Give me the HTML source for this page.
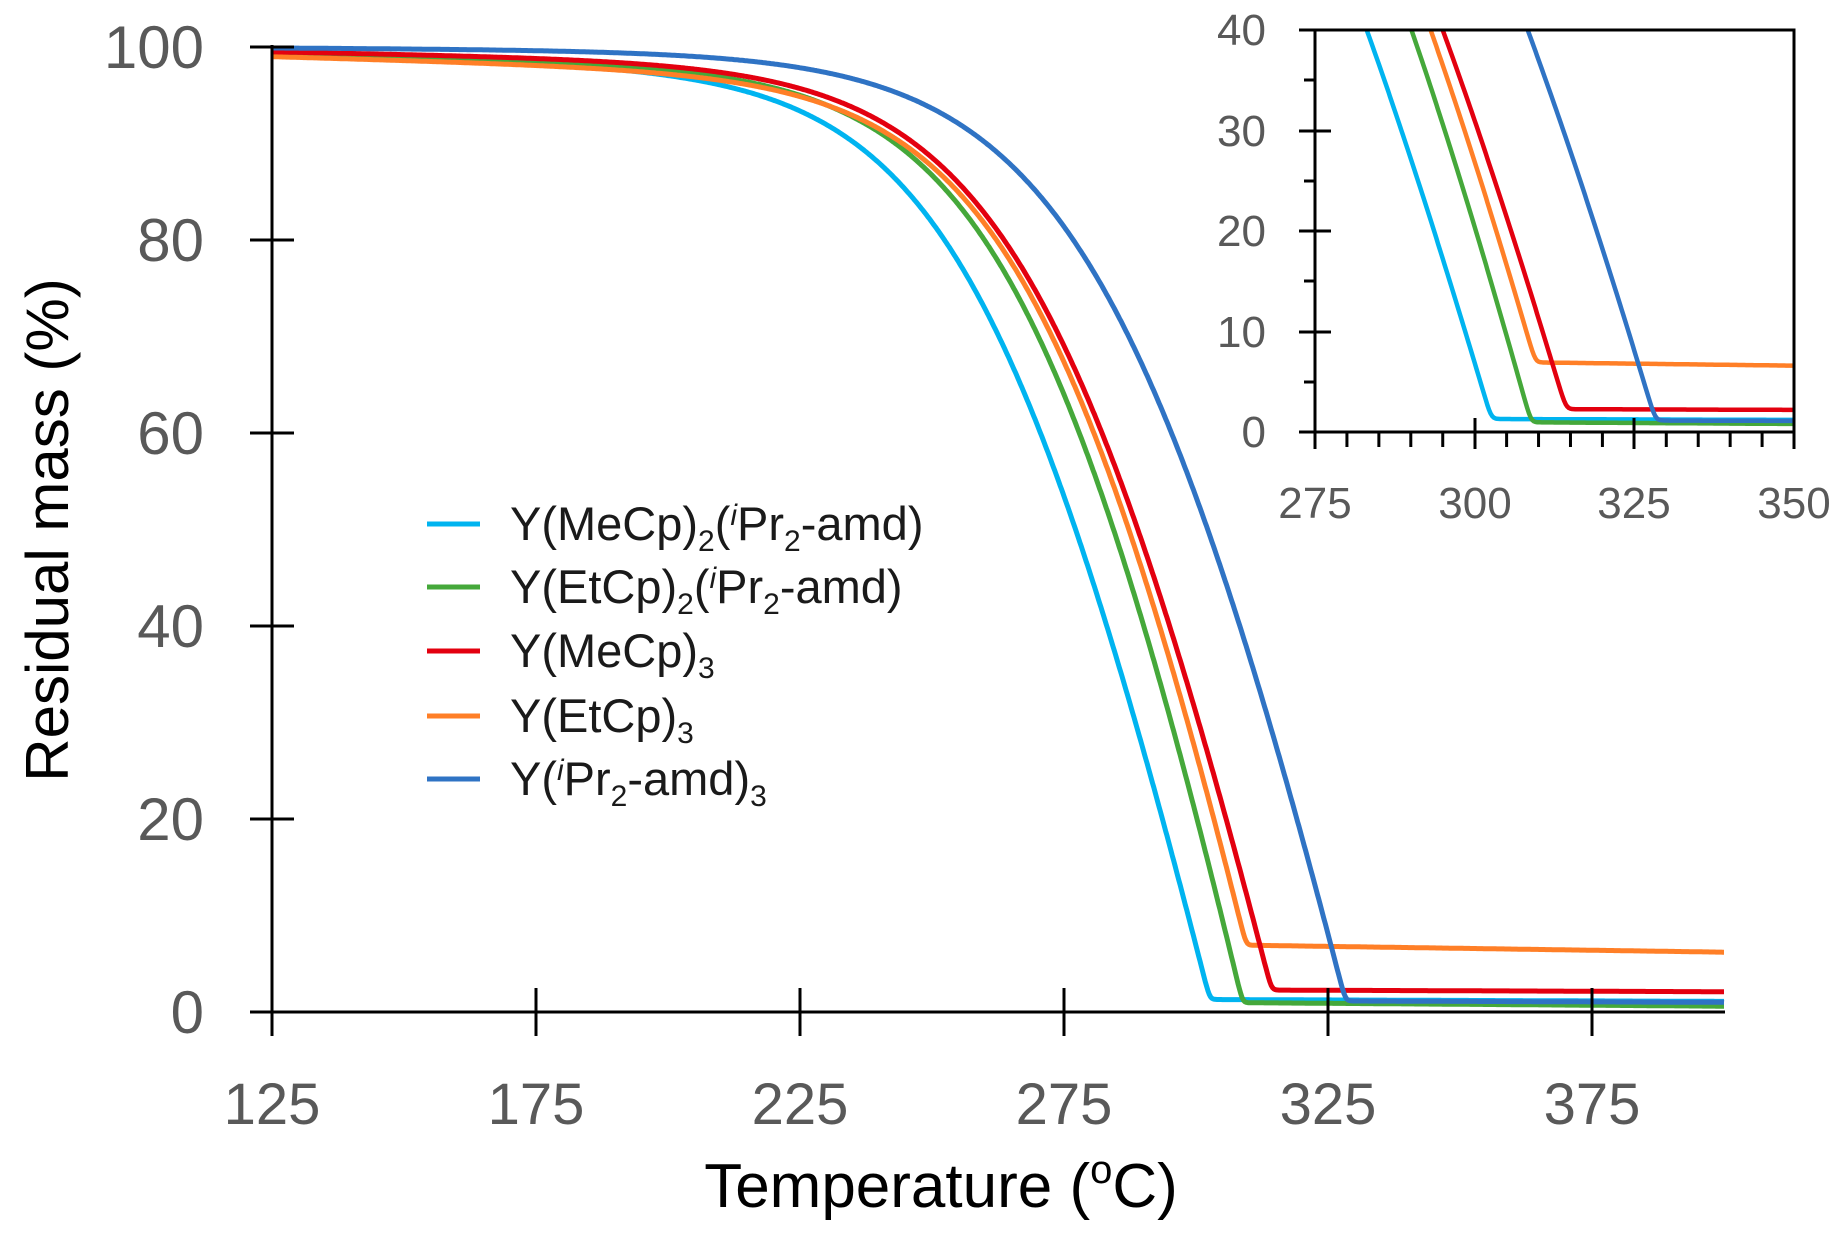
<!DOCTYPE html>
<html><head><meta charset="utf-8"><style>
html,body{margin:0;padding:0;background:#fff;}
svg{display:block;}
text{font-family:"Liberation Sans",sans-serif;}
</style></head><body>
<svg id="s" width="1846" height="1235" viewBox="0 0 1846 1235" xmlns="http://www.w3.org/2000/svg">
<rect width="1846" height="1235" fill="#fff"/>
<defs><clipPath id="ic"><rect x="1315" y="30" width="479" height="402"/></clipPath></defs>
<g id="main"></g>
<g stroke="#000" stroke-width="3" fill="none">
<line x1="272" y1="45" x2="272" y2="1036"/>
<line x1="250" y1="1012" x2="1725" y2="1012"/>
<line x1="250" y1="47" x2="294" y2="47"/>
<line x1="250" y1="240" x2="294" y2="240"/>
<line x1="250" y1="433" x2="294" y2="433"/>
<line x1="250" y1="626" x2="294" y2="626"/>
<line x1="250" y1="819" x2="294" y2="819"/>
<line x1="536" y1="988" x2="536" y2="1036"/>
<line x1="800" y1="988" x2="800" y2="1036"/>
<line x1="1064" y1="988" x2="1064" y2="1036"/>
<line x1="1328" y1="988" x2="1328" y2="1036"/>
<line x1="1592" y1="988" x2="1592" y2="1036"/>
</g>
<g fill="#595959" font-size="60" text-anchor="end">
<text x="204" y="68">100</text>
<text x="204" y="261">80</text>
<text x="204" y="454">60</text>
<text x="204" y="647">40</text>
<text x="204" y="840">20</text>
<text x="204" y="1033">0</text>
</g>
<g fill="#595959" font-size="58" text-anchor="middle">
<text x="272" y="1124">125</text>
<text x="536" y="1124">175</text>
<text x="800" y="1124">225</text>
<text x="1064" y="1124">275</text>
<text x="1328" y="1124">325</text>
<text x="1592" y="1124">375</text>
</g>
<text x="941" y="1207" font-size="62" text-anchor="middle" fill="#000">Temperature (<tspan font-size="40" dy="-24">o</tspan><tspan dy="24">C)</tspan></text>
<text transform="translate(68,530) rotate(-90)" font-size="60" text-anchor="middle" fill="#000">Residual mass (%)</text>
<g stroke-width="5">
<line x1="427" y1="524" x2="480" y2="524" stroke="#00B4F0"/>
<line x1="427" y1="587" x2="480" y2="587" stroke="#45A83A"/>
<line x1="427" y1="651" x2="480" y2="651" stroke="#E3000F"/>
<line x1="427" y1="716" x2="480" y2="716" stroke="#FF7F27"/>
<line x1="427" y1="779" x2="480" y2="779" stroke="#2F73C4"/>
</g>
<g font-size="47" fill="#1a1a1a">
<text x="510" y="540">Y(MeCp)<tspan font-size="30" dy="11">2</tspan><tspan dy="-11">(</tspan><tspan font-size="30" font-style="italic" dy="-15">i</tspan><tspan dy="15">Pr</tspan><tspan font-size="30" dy="11">2</tspan><tspan dy="-11">-amd)</tspan></text>
<text x="510" y="603">Y(EtCp)<tspan font-size="30" dy="11">2</tspan><tspan dy="-11">(</tspan><tspan font-size="30" font-style="italic" dy="-15">i</tspan><tspan dy="15">Pr</tspan><tspan font-size="30" dy="11">2</tspan><tspan dy="-11">-amd)</tspan></text>
<text x="510" y="667">Y(MeCp)<tspan font-size="30" dy="11">3</tspan></text>
<text x="510" y="732">Y(EtCp)<tspan font-size="30" dy="11">3</tspan></text>
<text x="510" y="795">Y(<tspan font-size="30" font-style="italic" dy="-15">i</tspan><tspan dy="15">Pr</tspan><tspan font-size="30" dy="11">2</tspan><tspan dy="-11">-amd)</tspan><tspan font-size="30" dy="11">3</tspan></text>
</g>
<rect x="1315" y="30" width="479" height="402" fill="#fff"/>
<g id="ins" clip-path="url(#ic)"></g>
<g stroke="#000" stroke-width="3" fill="none">
<rect x="1315" y="30" width="479" height="402"/>
<line x1="1299" y1="131" x2="1331" y2="131"/>
<line x1="1299" y1="231" x2="1331" y2="231"/>
<line x1="1299" y1="332" x2="1331" y2="332"/>
<line x1="1299" y1="30" x2="1315" y2="30"/>
<line x1="1299" y1="432" x2="1315" y2="432"/>
<line x1="1304" y1="80" x2="1315" y2="80"/>
<line x1="1304" y1="181" x2="1315" y2="181"/>
<line x1="1304" y1="281" x2="1315" y2="281"/>
<line x1="1304" y1="382" x2="1315" y2="382"/>
<line x1="1475" y1="418" x2="1475" y2="449"/>
<line x1="1634" y1="418" x2="1634" y2="449"/>
<line x1="1315" y1="432" x2="1315" y2="449"/>
<line x1="1794" y1="432" x2="1794" y2="449"/>
</g>
<g id="minor" stroke="#000" stroke-width="3"></g>
<g fill="#595959" font-size="44" text-anchor="end">
<text x="1266" y="45">40</text>
<text x="1266" y="146">30</text>
<text x="1266" y="246">20</text>
<text x="1266" y="347">10</text>
<text x="1266" y="447">0</text>
</g>
<g fill="#595959" font-size="44" text-anchor="middle">
<text x="1315" y="518">275</text>
<text x="1475" y="518">300</text>
<text x="1634" y="518">325</text>
<text x="1794" y="518">350</text>
</g>
</svg>
<script>
// color, top, A, w, T40, base, resid0, resid1
var S=[
["#00B4F0",99.3,2.4,18,283.1,0.015,1.3,1.1],
["#45A83A",99.3,2.65,18.5,290.1,0.012,1.0,0.6],
["#FF7F27",99.0,2.58,18.5,293.1,0.015,7.0,6.2],
["#E3000F",99.5,2.42,19,295.0,0.01,2.3,2.1],
["#2F73C4",99.9,2.45,20,308.3,0.003,1.2,1.0]
];
function sp(x){return x>30?x:Math.log(1+Math.exp(x));}
function raw(p,Tc,T){return p[1]-p[5]*(T-125)-p[2]*p[3]*(sp((T-Tc)/p[3])-sp((125-Tc)/p[3]));}
var NS="http://www.w3.org/2000/svg";
function add(g,c,w,d){var e=document.createElementNS(NS,"path");e.setAttribute("d",d);e.setAttribute("stroke",c);e.setAttribute("stroke-width",w);e.setAttribute("fill","none");e.setAttribute("stroke-linejoin","round");g.appendChild(e);}
var gm=document.getElementById("main"),gi=document.getElementById("ins");
S.forEach(function(p){
  var lo=150,hi=400;
  for(var k=0;k<60;k++){var mid=(lo+hi)/2;if(raw(p,mid,p[4])>40)hi=mid;else lo=mid;}
  var Tc=(lo+hi)/2;
  function f(T){var r=p[6]+(p[7]-p[6])*Math.max(0,(T-300)/100);var m=raw(p,Tc,T);var kk=0.6;return r+kk*sp((m-r)/kk);}
  var d1="",d2="";
  for(var T=125;T<=400.001;T+=0.25){var y=f(T);var X=272+(T-125)*5.28,Y=1012-y*9.65;d1+=(d1?"L":"M")+X.toFixed(1)+" "+Y.toFixed(1);
  if(T>=272){var X2=1315+(T-275)*6.387,Y2=432-y*10.05;d2+=(d2?"L":"M")+X2.toFixed(1)+" "+Y2.toFixed(1);}}
  add(gm,p[0],5,d1);add(gi,p[0],4.5,d2);
});
var mg=document.getElementById("minor");
for(var T=280;T<350;T+=5){if(T==300||T==325)continue;var x=1315+(T-275)*6.387;var l=document.createElementNS(NS,"line");l.setAttribute("x1",x);l.setAttribute("x2",x);l.setAttribute("y1",432);l.setAttribute("y2",447);mg.appendChild(l);}
</script>
</body></html>
